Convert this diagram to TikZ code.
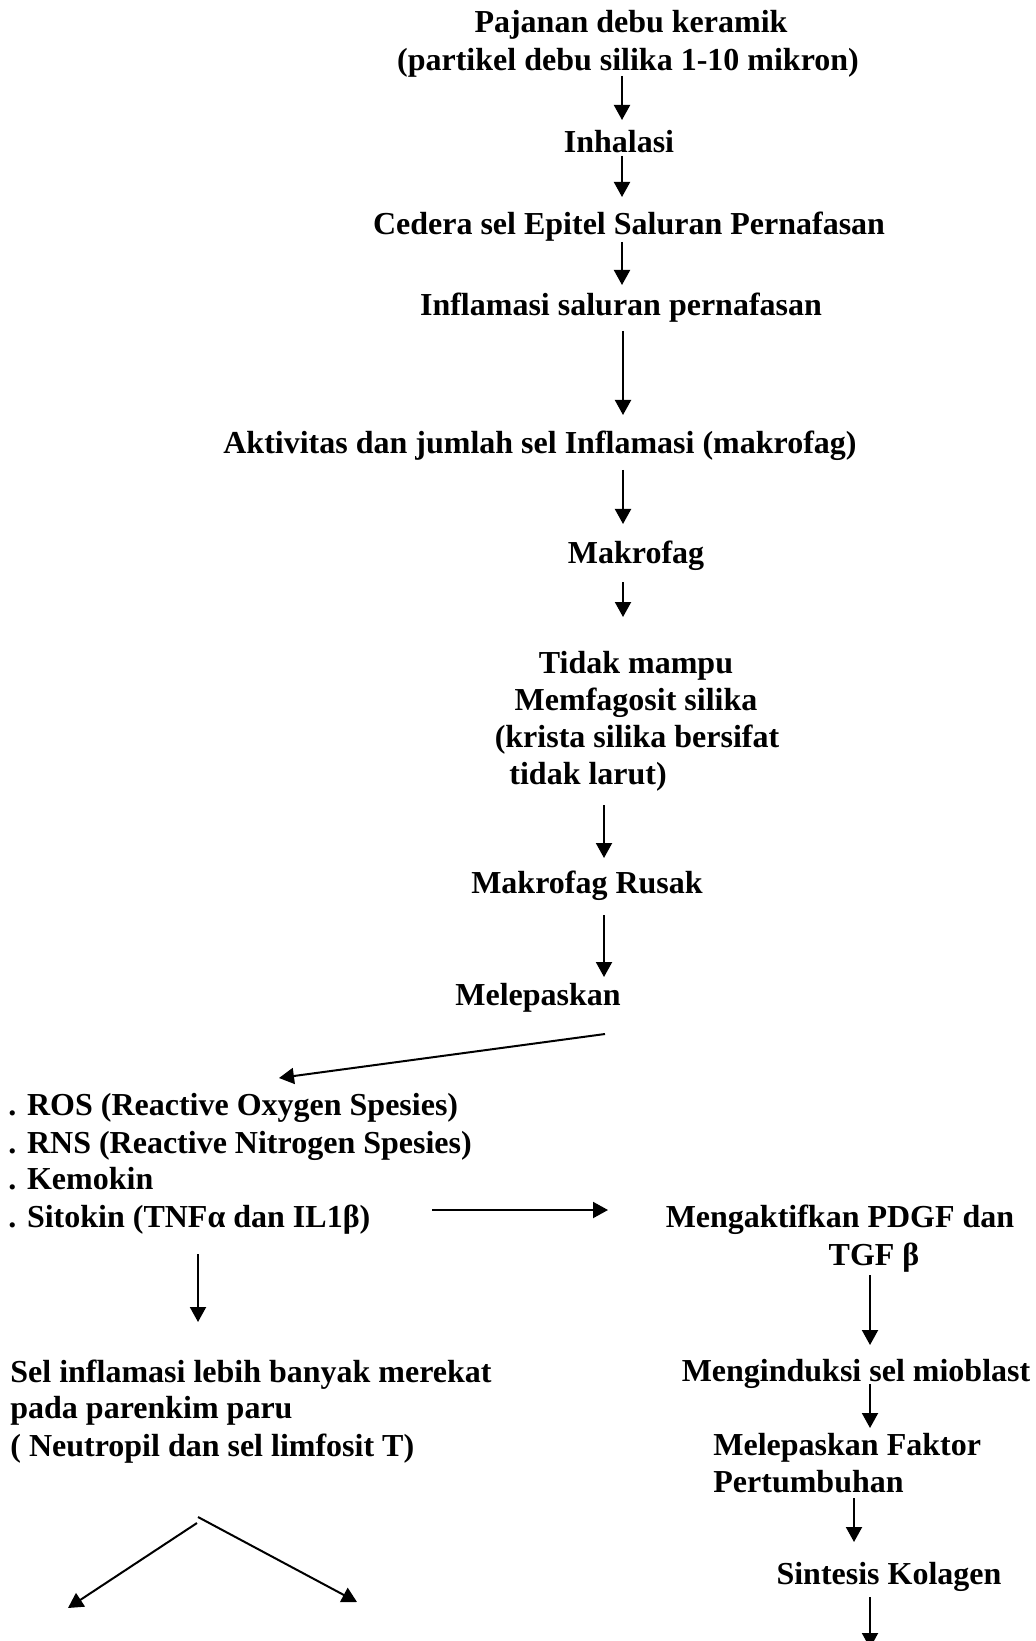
\documentclass[tikz,border=0pt]{standalone}
\usepackage{fontspec}
\setmainfont{Liberation Serif}
\usetikzlibrary{arrows.meta}
\tikzset{
  lbl/.style={inner sep=0pt, anchor=base, font=\fontsize{16}{18.5}\selectfont\bfseries},
  lbll/.style={lbl, anchor=base west},
  arr/.style={line width=1pt, -{Triangle[length=7.5pt,width=8pt]}},
}
\begin{document}
\begin{tikzpicture}[x=0.5pt,y=-0.5pt]
\useasboundingbox (0,0) rectangle (1036,1641);
% main column texts
\node[lbl] (t1a) at (631,33) {Pajanan debu keramik};
\node[lbl] (t1b) at (628,71) {(partikel debu silika 1-10 mikron)};
\node[lbl] (t2) at (619,153) {Inhalasi};
\node[lbl] (t3) at (629,235) {Cedera sel Epitel Saluran Pernafasan};
\node[lbl] (t4) at (621,316) {Inflamasi saluran pernafasan};
\node[lbl] (t5) at (540,454) {Aktivitas dan jumlah sel Inflamasi (makrofag)};
\node[lbl] (t6) at (636,563) {Makrofag};
\node[lbl] (t7a) at (636,673) {Tidak mampu};
\node[lbl] (t7b) at (636,710) {Memfagosit silika};
\node[lbl] (t7c) at (637,747) {(krista silika bersifat};
\node[lbll] (t7d) at (509,784) {tidak larut)};
\node[lbl] (t8) at (587,893) {Makrofag Rusak};
\node[lbl] (t9) at (538,1005) {Melepaskan};
% list
\node[lbll] (l1) at (8,1115) {. ROS (Reactive Oxygen Spesies)};
\node[lbll] (l2) at (8,1153) {. RNS (Reactive Nitrogen Spesies)};
\node[lbll] (l3) at (8,1189) {. Kemokin};
\node[lbll] (l4) at (8,1227) {. Sitokin (TNFα dan IL1β)};
% right column
\node[lbl] (r1a) at (840,1227) {Mengaktifkan PDGF dan};
\node[lbl] (r1b) at (874,1265) {TGF β};
\node[lbl] (r2) at (856,1381) {Menginduksi sel mioblast};
\node[lbll] (r3a) at (713,1455) {Melepaskan Faktor};
\node[lbll] (r3b) at (713,1492) {Pertumbuhan};
\node[lbl] (r4) at (889,1584) {Sintesis Kolagen};
% left column
\node[lbll] (s1a) at (10,1382) {Sel inflamasi lebih banyak merekat};
\node[lbll] (s1b) at (10,1418) {pada parenkim paru};
\node[lbll] (s1c) at (10,1456) {( Neutropil dan sel limfosit T)};
% arrow end points
\coordinate (a1s) at (622,76);   \coordinate (a1e) at (622,120);
\coordinate (a2s) at (622,156);  \coordinate (a2e) at (622,197);
\coordinate (a3s) at (622,242);  \coordinate (a3e) at (622,285);
\coordinate (a4s) at (623,331);  \coordinate (a4e) at (623,415);
\coordinate (a5s) at (623,470);  \coordinate (a5e) at (623,524);
\coordinate (a6s) at (623,582);  \coordinate (a6e) at (623,617);
\coordinate (a7s) at (604,805);  \coordinate (a7e) at (604,858);
\coordinate (a8s) at (604,915);  \coordinate (a8e) at (604,977);
\coordinate (a9s) at (605,1034); \coordinate (a9e) at (279,1078);
\coordinate (a10s) at (432,1210); \coordinate (a10e) at (608,1210);
\coordinate (a11s) at (870,1275); \coordinate (a11e) at (870,1345);
\coordinate (a12s) at (870,1384); \coordinate (a12e) at (870,1428);
\coordinate (a13s) at (854,1498); \coordinate (a13e) at (854,1542);
\coordinate (a14s) at (870,1597); \coordinate (a14e) at (870,1648);
\coordinate (a15s) at (198,1254); \coordinate (a15e) at (198,1322);
\coordinate (b1s) at (197,1523); \coordinate (b1e) at (68,1608);
\coordinate (b2s) at (198,1517); \coordinate (b2e) at (357,1602);
% arrows
\draw[arr] (a1s) -- (a1e);
\draw[arr] (a2s) -- (a2e);
\draw[arr] (a3s) -- (a3e);
\draw[arr] (a4s) -- (a4e);
\draw[arr] (a5s) -- (a5e);
\draw[arr] (a6s) -- (a6e);
\draw[arr] (a7s) -- (a7e);
\draw[arr] (a8s) -- (a8e);
\draw[arr] (a9s) -- (a9e);
\draw[arr] (a10s) -- (a10e);
\draw[arr] (a11s) -- (a11e);
\draw[arr] (a12s) -- (a12e);
\draw[arr] (a13s) -- (a13e);
\draw[arr] (a14s) -- (a14e);
\draw[arr] (a15s) -- (a15e);
\draw[arr] (b1s) -- (b1e);
\draw[arr] (b2s) -- (b2e);
\end{tikzpicture}
\end{document}
